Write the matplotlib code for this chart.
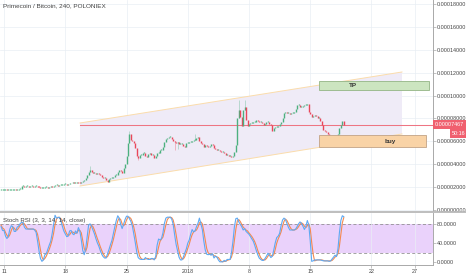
import matplotlib
matplotlib.use("Agg")
import matplotlib.pyplot as plt
import matplotlib.dates as mdates
from matplotlib.patches import Polygon, Rectangle
from matplotlib.lines import Line2D
from datetime import datetime, timedelta

plt.rcParams["font.family"] = ["Liberation Sans", "DejaVu Sans"]

# ---------------- data ----------------
title = "Primecoin / Bitcoin, 240, POLONIEX"
start = datetime(2017, 12, 10, 16)
step_hours = 4
SAT = 1e-8

close_sat = [
    1790, 1790, 1790, 1790, 1747, 1747, 1747, 1747, 1747, 1790, 1747, 1747,
    1834, 1834, 2096, 2096, 2052, 2096, 2096, 2052, 2096, 2096, 2052, 2096,
    2096, 2052, 2009, 1921, 1921, 1921, 2009, 2009, 1965, 2009, 2052, 2009,
    2140, 2184, 2184, 2140, 2184, 2184, 2227, 2271, 2271, 2227, 2271, 2315,
    2402, 2402, 2358, 2402, 2446, 2402, 2358, 2446, 2533, 2620, 2795, 3057,
    3319, 3494, 3319, 3232, 3232, 3188, 3232, 3144, 3057, 2882, 2795, 2795,
    2620, 2446, 2708, 2795, 2795, 2882, 3057, 3057, 3319, 3494, 3406, 3232,
    3668, 4018, 4716, 5852, 6638, 6114, 6026, 5852, 5415, 4716, 4542, 4804,
    4804, 4978, 4978, 4716, 4629, 4891, 4978, 4804, 4804, 4542, 4716, 4978,
    4978, 5240, 5240, 5502, 5939, 6201, 6288, 6376, 6376, 6201, 6026, 5939,
    5852, 5939, 5764, 5764, 5764, 5590, 5502, 5852, 5852, 5939, 5939, 6026,
    6114, 6114, 6288, 6376, 6026, 5852, 5764, 5502, 5677, 5590, 5502, 5590,
    5764, 5677, 5415, 5328, 5240, 5240, 5153, 5066, 5066, 4978, 4804, 4804,
    4716, 4716, 4629, 4716, 5066, 5677, 8035, 8734, 8123, 7337, 8734, 8996,
    7861, 7337, 7511, 7599, 7599, 7686, 7686, 7861, 7773, 7686, 7686, 7599,
    7424, 7511, 7686, 7686, 7511, 7424, 6900, 7162, 7249, 7249, 7337, 7511,
    7686, 8035, 8472, 8559, 8472, 8472, 8385, 8472, 8472, 8559, 8821, 9171,
    9171, 8996, 8996, 9083, 9171, 9171, 9258, 8559, 8385, 8123, 8210, 8298,
    8210, 8035, 8035, 7773, 7424, 6987, 6900, 6813, 6638, 6288, 6114, 6114,
    5852, 5764, 6114, 6638, 7162, 7424, 7773, 7467,
]
first_open_sat = 1790
wick_high_sat = {61: 3843, 88: 6900, 133: 6638, 163: 9607, 167: 9607}
wick_low_sat = {94: 4367, 119: 5240, 121: 5328, 229: 5677}

stoch_k = [
    75, 67, 67, 55, 50, 55, 70, 77, 75, 65, 65, 74, 76, 81, 84, 84, 74, 70, 70, 70,
    70, 70, 70, 68, 63, 45, 24, 8, 2, 5, 16, 18, 27, 36, 44, 60, 80, 99, 93, 94,
    95, 88, 76, 66, 60, 54, 55, 66, 67, 60, 58, 66, 61, 73, 66, 47, 25, 16, 28, 53,
    78, 81, 76, 68, 60, 50, 41, 34, 25, 17, 12, 9, 9, 18, 27, 37, 46, 61, 75, 88,
    98, 93, 80, 71, 80, 90, 97, 97, 92, 86, 77, 60, 42, 22, 10, 7, 6, 6, 6, 10,
    7, 6, 6, 8, 8, 5, 12, 36, 49, 47, 50, 62, 82, 93, 95, 95, 95, 91, 80, 58,
    38, 24, 11, 5, 5, 11, 20, 28, 40, 47, 59, 69, 64, 66, 75, 82, 93, 81, 69, 45,
    26, 17, 16, 17, 15, 18, 9, 13, 11, 5, 1, 1, 1, 4, 2, 6, 6, 6, 20, 44,
    75, 92, 93, 85, 80, 75, 68, 71, 65, 62, 59, 54, 49, 44, 35, 25, 16, 9, 6, 4,
    4, 8, 13, 19, 15, 10, 13, 26, 41, 52, 55, 61, 77, 89, 93, 90, 82, 74, 68, 68,
    68, 68, 70, 75, 81, 85, 82, 76, 69, 75, 88, 79, 45, 2, 3, 5, 5, 5, 5, 5,
    4, 3, 3, 3, 3, 2, 3, 7, 11, 15, 12, 28, 62, 88, 98, 96,
]
stoch_d = [
    78, 72, 70, 63, 57, 53, 58, 67, 74, 72, 68, 68, 72, 77, 80, 83, 81, 76, 71, 70,
    70, 70, 70, 69, 67, 59, 44, 26, 11, 5, 8, 13, 20, 27, 36, 47, 61, 80, 91, 95,
    94, 92, 86, 77, 67, 60, 56, 58, 63, 64, 62, 61, 62, 67, 67, 62, 46, 29, 23, 32,
    53, 71, 78, 75, 68, 59, 50, 42, 33, 25, 18, 13, 10, 12, 18, 27, 37, 48, 61, 75,
    87, 93, 90, 81, 77, 80, 89, 95, 95, 92, 85, 74, 60, 41, 25, 13, 8, 6, 6, 7,
    8, 8, 6, 7, 7, 7, 8, 18, 32, 44, 49, 53, 65, 79, 90, 94, 95, 94, 89, 76,
    59, 40, 24, 13, 7, 7, 12, 20, 29, 38, 49, 58, 64, 66, 68, 74, 83, 85, 81, 65,
    47, 29, 20, 17, 16, 17, 14, 13, 11, 10, 6, 2, 1, 2, 2, 4, 5, 6, 11, 23,
    46, 70, 87, 90, 86, 80, 74, 71, 68, 66, 62, 58, 54, 49, 43, 35, 25, 17, 10, 6,
    5, 5, 8, 13, 16, 15, 13, 16, 27, 40, 49, 56, 64, 76, 86, 91, 88, 82, 75, 70,
    68, 68, 69, 71, 75, 80, 83, 81, 76, 73, 77, 81, 71, 42, 17, 3, 4, 5, 5, 5,
    5, 4, 3, 3, 3, 3, 3, 4, 7, 11, 13, 18, 34, 59, 83, 94,
]

last_price = 0.00007467
last_price_label = "0.00007467"
countdown = "50:16"

price_ticks = [0.0, 0.00002, 0.00004, 0.00006, 0.00008, 0.00010,
               0.00012, 0.00014, 0.00016, 0.00018]
stoch_ticks = [0, 40, 80]
stoch_bands = (20, 80)
date_ticks = [datetime(2017, 12, 11), datetime(2017, 12, 18), datetime(2017, 12, 25),
              datetime(2018, 1, 1), datetime(2018, 1, 8), datetime(2018, 1, 15),
              datetime(2018, 1, 22), datetime(2018, 1, 27)]
date_labels = ["11", "18", "25", "2018", "8", "15", "22", "27"]

# drawings
channel_t = [datetime(2017, 12, 19, 16, 30), datetime(2018, 1, 25, 11, 40)]
channel_upper_sat = [7599, 12053]
channel_lower_sat = [2096, 6638]
hline_start = datetime(2017, 12, 19, 16, 30)
tp_box = dict(t0=datetime(2018, 1, 16), t1=datetime(2018, 1, 28, 13, 40),
              lo=10481, hi=11267, text="TP", text_t=datetime(2018, 1, 19, 21))
buy_box = dict(t0=datetime(2018, 1, 16), t1=datetime(2018, 1, 28, 5, 30),
               lo=5502, hi=6550, text="buy", text_t=datetime(2018, 1, 24, 3))
view_t = [datetime(2017, 12, 10, 13), datetime(2018, 1, 29, 0, 45)]

# ---------------- styling ----------------
UP = "#4cb07f"
DOWN = "#e9475a"
GRID = "#e9eef4"
TXT = "#434343"
AXC = "#a9a9a9"
FS = 3.9

fig = plt.figure(figsize=(4.66, 2.75), dpi=100)
W, H = 466, 275
ax = fig.add_axes([0, 1 - 211 / H, 433 / W, 211 / H])
ax2 = fig.add_axes([0, 1 - 265 / H, 433 / W, 52 / H], sharex=ax)

n = len(close_sat)
times = [start + timedelta(hours=step_hours * i) for i in range(n)]
tx = mdates.date2num(times)
opens = [first_open_sat] + close_sat[:-1]

for i in range(n):
    o, c = opens[i], close_sat[i]
    col = UP if c >= o else DOWN
    hi = wick_high_sat.get(i, max(o, c))
    lo = wick_low_sat.get(i, min(o, c))
    if hi > max(o, c) or lo < min(o, c):
        ax.vlines(tx[i], lo * SAT, hi * SAT, color=col, lw=0.4, alpha=0.6, zorder=3)
    b0, b1 = min(o, c), max(o, c)
    if b1 - b0 < 60:
        b1 = b0 + 60
    ax.vlines(tx[i], b0 * SAT, b1 * SAT, color=col, lw=1.0, zorder=4)

# channel
cx = mdates.date2num(channel_t)
poly = Polygon([(cx[0], channel_lower_sat[0] * SAT), (cx[1], channel_lower_sat[1] * SAT),
                (cx[1], channel_upper_sat[1] * SAT), (cx[0], channel_upper_sat[0] * SAT)],
               closed=True, facecolor="#efebf7", edgecolor="none", zorder=1)
ax.add_patch(poly)
ax.plot(cx, [v * SAT for v in channel_upper_sat], color="#fbdcab", lw=0.7, zorder=2)
ax.plot(cx, [v * SAT for v in channel_lower_sat], color="#fbdcab", lw=0.7, zorder=2)

# current price line
ax.plot([mdates.date2num(hline_start), mdates.date2num(view_t[1])],
        [last_price, last_price], color="#ee7583", lw=0.75, zorder=2)

# boxes
for bx, fc, ec in [(tp_box, "#cce5c0", "#93b585"), (buy_box, "#f9d3a6", "#c2a386")]:
    x0 = mdates.date2num(bx["t0"])
    x1 = mdates.date2num(bx["t1"])
    ax.add_patch(Rectangle((x0, bx["lo"] * SAT), x1 - x0, (bx["hi"] - bx["lo"]) * SAT,
                           facecolor=fc, edgecolor=ec, lw=0.6, zorder=5))
    ax.text(mdates.date2num(bx["text_t"]), (bx["lo"] + bx["hi"]) / 2 * SAT, bx["text"],
            ha="center", va="center", fontsize=4.6, fontweight="bold", color="#333333",
            zorder=6)

ax.set_xlim(mdates.date2num(view_t[0]), mdates.date2num(view_t[1]))
ax.set_ylim(-87 * SAT, 18341 * SAT)
ax.set_yticks(price_ticks)
ax.set_yticklabels(["%.8f" % v for v in price_ticks])
ax.yaxis.tick_right()
ax.tick_params(axis="y", labelsize=FS, colors=TXT, length=2, width=0.5, pad=1.0,
               color=AXC)
ax.tick_params(axis="x", bottom=False, labelbottom=False)
ax.set_xticks(mdates.date2num(date_ticks))
ax.grid(True, color=GRID, lw=0.5, zorder=0)
ax.set_axisbelow(True)
for s in ["left", "top", "bottom"]:
    ax.spines[s].set_visible(False)
ax.spines["right"].set_color(AXC)
ax.spines["right"].set_linewidth(0.7)

ax.text(0.008, 0.983, title, transform=ax.transAxes, ha="left", va="top",
        fontsize=4.6, color=TXT)

# last price label and countdown
ax.annotate(last_price_label, xy=(1.0, last_price), xycoords=ax.get_yaxis_transform(),
            xytext=(1.6, 0), textcoords="offset points", ha="left", va="center",
            fontsize=FS, color="white", annotation_clip=False,
            bbox=dict(boxstyle="square,pad=0.35", fc="#f0606f", ec="none"), zorder=10)
ax.annotate(countdown, xy=(1.0, last_price), xycoords=ax.get_yaxis_transform(),
            xytext=(23.2, -6.2), textcoords="offset points", ha="right", va="center",
            fontsize=FS, color="white", annotation_clip=False,
            bbox=dict(boxstyle="square,pad=0.35", fc="#f0606f", ec="none"), zorder=10)

# ---------------- stoch rsi ----------------
ax2.axhspan(stoch_bands[0], stoch_bands[1], color="#ead2fb", lw=0, zorder=0)
for b in stoch_bands:
    ax2.axhline(b, color="#8a8a8a", lw=0.55, ls=(0, (4, 3)), zorder=1)
ax2.plot(tx, stoch_k, color="#5ea9f3", lw=0.8, zorder=3)
ax2.plot(tx, stoch_d, color="#f5894f", lw=0.8, zorder=2)
ax2.set_ylim(-5.7, 103.8)
ax2.set_yticks(stoch_ticks)
ax2.set_yticklabels(["%.4f" % v for v in stoch_ticks])
ax2.yaxis.tick_right()
ax2.tick_params(axis="y", labelsize=FS, colors=TXT, length=2, width=0.5, pad=1.0,
                color=AXC)
ax2.set_xticks(mdates.date2num(date_ticks))
ax2.set_xticklabels(date_labels)
ax2.tick_params(axis="x", labelsize=FS, colors=TXT, length=2, width=0.5, pad=1.0,
                color=AXC)
ax2.grid(True, axis="x", color=GRID, lw=0.5, zorder=0)
for s in ["left", "top"]:
    ax2.spines[s].set_visible(False)
for s in ["right", "bottom"]:
    ax2.spines[s].set_color(AXC)
    ax2.spines[s].set_linewidth(0.7)
ax2.text(0.008, 0.85, "Stoch RSI (3, 3, 14, 14, close)", transform=ax2.transAxes,
         ha="left", va="center", fontsize=4.4, color=TXT, zorder=5)

# pane separator
fig.add_artist(Line2D([0, 1], [1 - 211.8 / H, 1 - 211.8 / H], transform=fig.transFigure,
                      color="#b9b9b9", lw=1.3))

fig.savefig("out.png", dpi=100)
